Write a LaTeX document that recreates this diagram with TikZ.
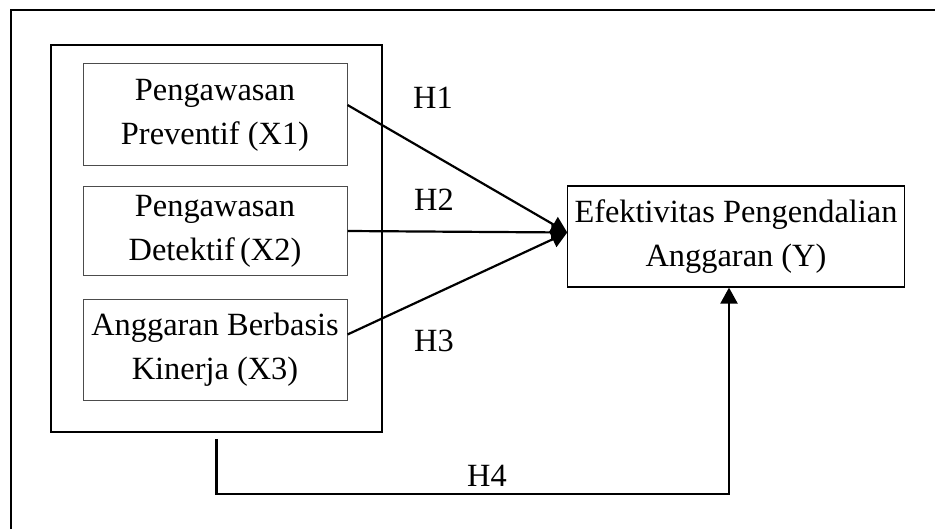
\documentclass[tikz,border=0pt]{standalone}
\usepackage{fontspec}
\setmainfont{Liberation Serif}
\usetikzlibrary{arrows.meta}
\begin{document}
\begin{tikzpicture}[x=0.5pt,y=-0.5pt,
  var/.style={draw=black!70,line width=0.5pt,align=center,minimum width=132pt,font=\fontsize{16.2}{22}\selectfont},
  hyp/.style={font=\fontsize{16.2}{22}\selectfont},
  arr/.style={line width=1.1pt,-{Triangle[length=8pt,width=8.5pt]}}]

\useasboundingbox (0,0) rectangle (935,529);
\draw[line width=0.8pt] (11,529) -- (11,10) -- (935,10);

\node[draw,line width=0.8pt,minimum width=165.5pt,minimum height=193.5pt] (grp) at (216.5,238.5) {};
\node[var,minimum height=51pt] (x1) at (215,115) {Pengawasan\\Preventif (X1)};
\node[var,minimum height=44pt] (x2) at (215,231) {Pengawasan\\Detektif\,(X2)};
\node[var,minimum height=50.5pt] (x3) at (215,349.5) {Anggaran Berbasis\\Kinerja (X3)};
\node[draw,line width=0.6pt,align=center,minimum width=168pt,minimum height=50.5pt,font=\fontsize{16.2}{22}\selectfont] (y) at (736,236.5) {Efektivitas Pengendalian\\Anggaran (Y)};

\coordinate (tip) at ([yshift=2pt]y.west);
\draw[arr] ([yshift=5pt]x1.east) -- (tip);
\draw[arr] (x2.east) -- (tip);
\draw[arr] ([yshift=7.5pt]x3.east) -- (tip);

\coordinate (h4) at (729,494);
\draw[arr] ([yshift=-3pt]grp.south) |- (h4) -- (h4 |- y.south);

\node[hyp] (h1) at (433,98) {H1};
\node[hyp] (h2) at (434,200) {H2};
\node[hyp] (h3) at (434,341) {H3};
\node[hyp] (h4l) at (487,476) {H4};

\end{tikzpicture}
\end{document}
